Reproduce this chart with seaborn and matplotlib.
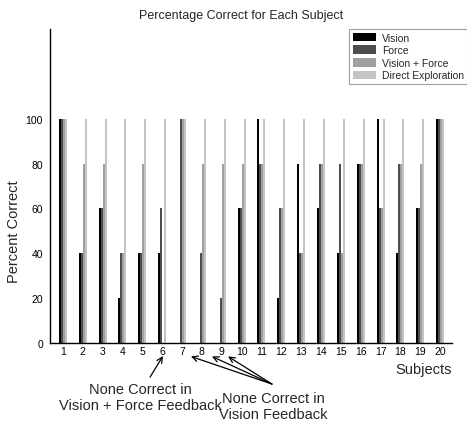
import seaborn as sns
import pandas as pd
from matplotlib import pyplot as plt

subjects = [str(i) for i in range(1, 21)]
vision = [100, 40, 60, 20, 40, 40, 0, 0, 0, 60, 100, 20, 80, 60, 40, 80, 100, 40, 60, 100]
force = [100, 40, 60, 40, 40, 60, 100, 40, 20, 60, 80, 60, 40, 80, 80, 80, 60, 80, 60, 100]
vision_force = [100, 80, 80, 40, 80, 0, 100, 80, 80, 80, 80, 60, 40, 80, 40, 80, 60, 80, 80, 100]
direct = [100] * 20
series = ['Vision', 'Force', 'Vision + Force', 'Direct Exploration']
colors = ['#000000', '#4d4d4d', '#a0a0a0', '#c4c4c4']

df = pd.DataFrame({'Subject': subjects, 'Vision': vision, 'Force': force,
                   'Vision + Force': vision_force, 'Direct Exploration': direct})
melted = pd.melt(df, id_vars=['Subject'], value_vars=series, var_name='Type')

sns.set_style('white')
plt.rcParams['font.family'] = ['Liberation Sans', 'DejaVu Sans']

fig = plt.figure(figsize=(4.67, 4.27), dpi=100)
ax = fig.add_axes([50 / 467, 1 - 344 / 427, 402 / 467, 314 / 427])

sns.barplot(data=melted, x='Subject', y='value', hue='Type', hue_order=series,
            palette=colors, width=0.4, saturation=1, linewidth=0, ax=ax)

ax.set_xlim(-0.65, 19.6)
ax.set_ylim(0, 140)
ax.set_yticks([0, 20, 40, 60, 80, 100])
ax.tick_params(axis='both', labelsize=7.5, length=3, width=0.8, colors='black', pad=2)
ax.tick_params(axis='x', direction='in')
ax.tick_params(axis='y', direction='out')
for s in ['top', 'right']:
    ax.spines[s].set_visible(False)
for s in ['left', 'bottom']:
    ax.spines[s].set_color('black')
    ax.spines[s].set_linewidth(1)

ax.set_xlabel('')
ax.set_ylabel('Percent Correct', fontsize=10.5)
ax.yaxis.set_label_coords(-0.072, 50 / 140)
ax.set_title('Percentage Correct for Each Subject', fontsize=9, pad=8, x=0.475)
ax.text(1.0, -0.06, 'Subjects', transform=ax.transAxes, ha='right', va='top', fontsize=10.5)

leg = ax.legend(loc='upper left', bbox_to_anchor=(299 / 402, 1.0), fontsize=7.5,
                frameon=True, fancybox=False, handlelength=2.2, handleheight=0.9,
                borderpad=0.35, labelspacing=0.25, handletextpad=0.6, borderaxespad=0)
leg.get_frame().set_edgecolor('#888888')
leg.get_frame().set_linewidth(0.8)

arrow = dict(arrowstyle='->', color='black', lw=0.9, shrinkA=0, shrinkB=0)
ax.annotate('', xy=(5.04, -5.8), xytext=(4.39, -15.2),
            annotation_clip=False, arrowprops=arrow)
ax.text(3.9, -17.2, 'None Correct in\nVision + Force Feedback', ha='center', va='top',
        fontsize=10.5, linespacing=1.2)
for xs in [6.45, 7.51, 8.32]:
    ax.annotate('', xy=(xs, -6.0), xytext=(10.53, -18.3),
                annotation_clip=False, arrowprops=arrow)
ax.text(10.6, -21.2, 'None Correct in\nVision Feedback', ha='center', va='top',
        fontsize=10.5, linespacing=1.2)

fig.savefig('out.png', dpi=100)
